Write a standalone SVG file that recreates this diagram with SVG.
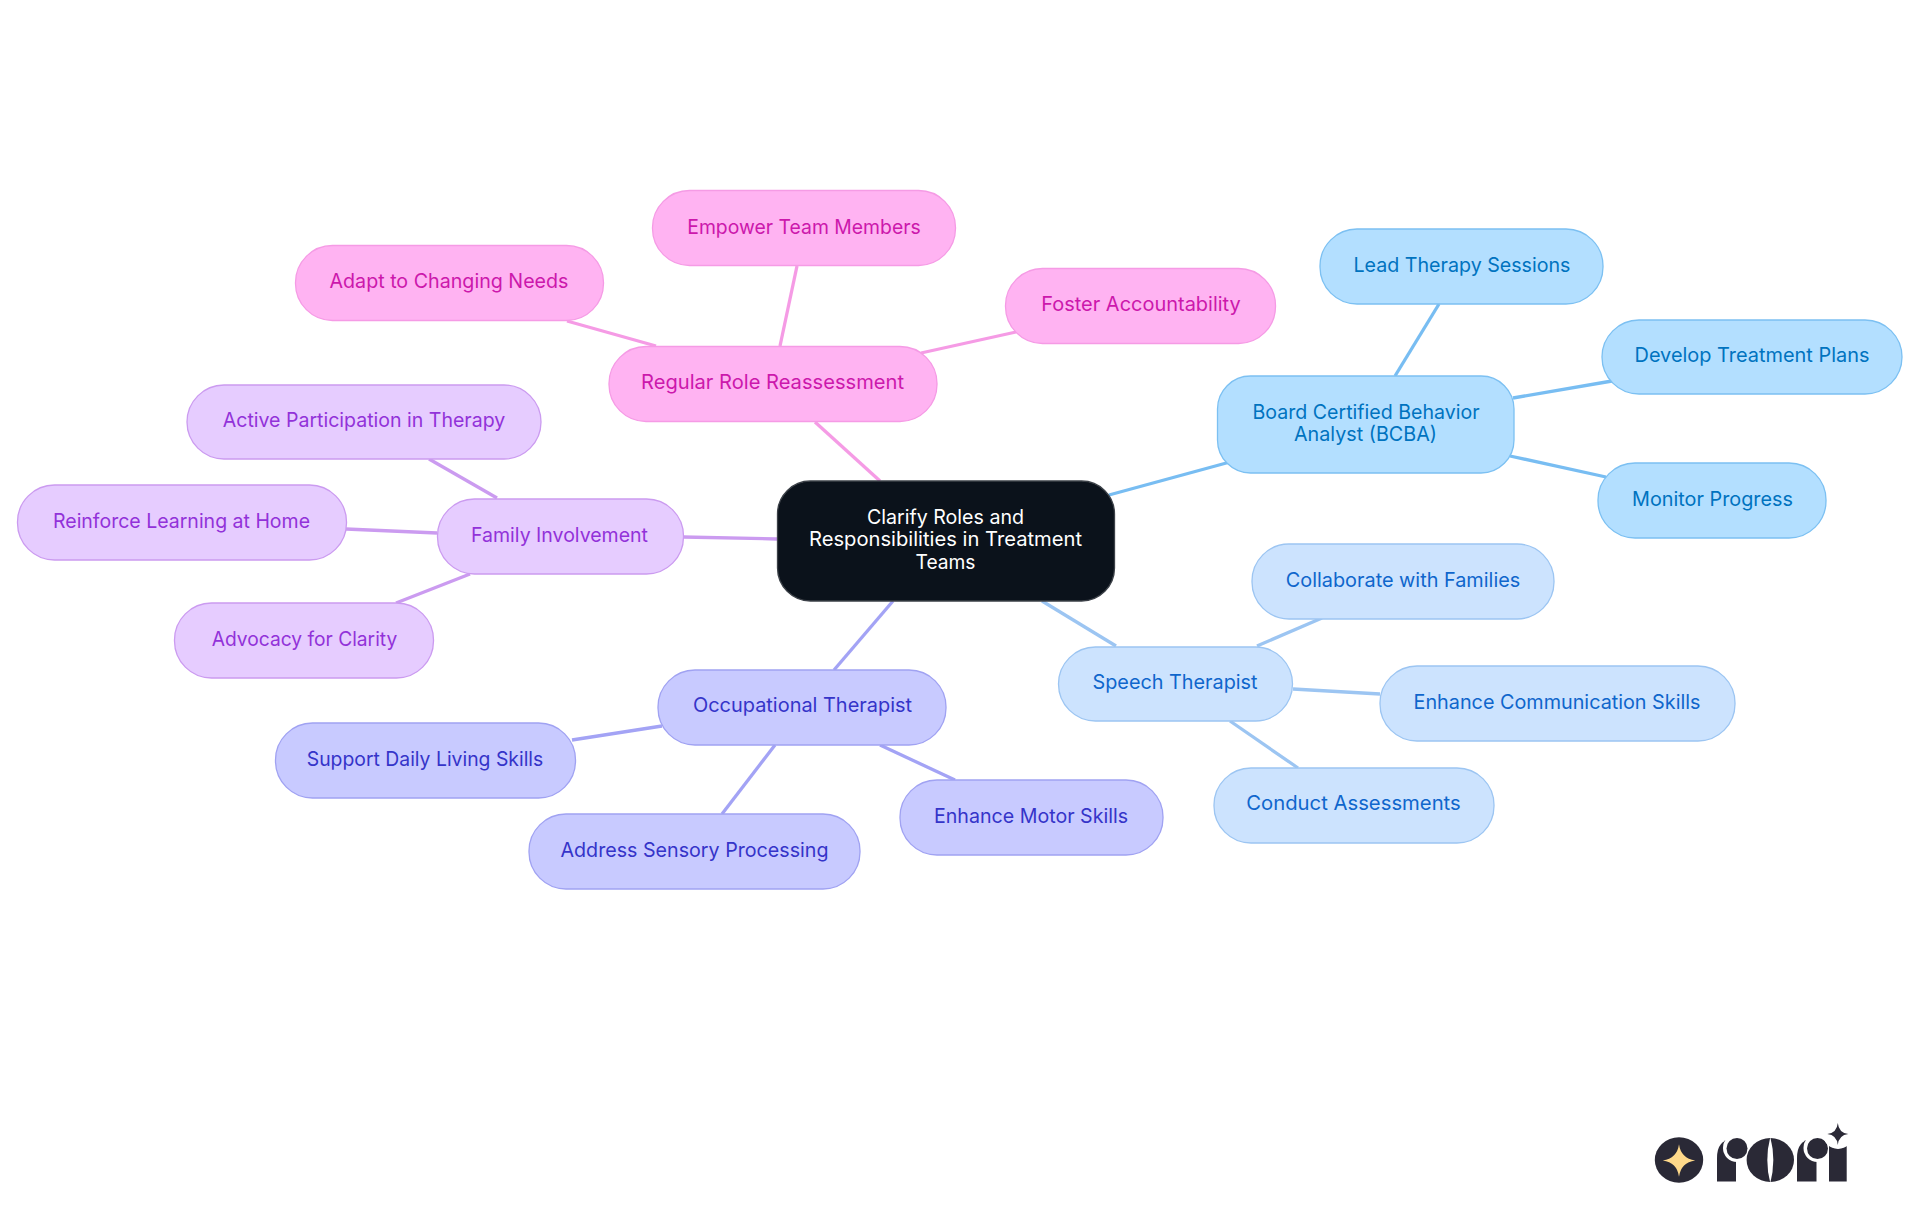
<svg xmlns="http://www.w3.org/2000/svg" width="1920" height="1215" viewBox="0 0 1920 1215">
<style>
text{font-family:"Inter","Liberation Sans",sans-serif;font-size:20px;text-anchor:middle;font-weight:400}
.e{fill:none;stroke-width:3.3}
.n{stroke-width:1.3}
.root{fill:#0b121b;stroke:#3c4148}
.root-t{fill:#fff}
.a{fill:#b3dfff;stroke:#7cc0f2}.a-t{fill:#0073bf}
.s{fill:#cce3fe;stroke:#9cc5f2}.s-t{fill:#0f66cc}
.o{fill:#c8caff;stroke:#a0a2f2}.o-t{fill:#3534c9}
.f{fill:#e6ccff;stroke:#cb9bf0}.f-t{fill:#9232d9}
.r{fill:#ffb3f2;stroke:#f59be5}.r-t{fill:#cc18ac}
</style>
<g id="connectors">
<g class="e" stroke="#78bdf2">
<path d="M1109 495L1230 462"/><path d="M1395 376L1439 304"/><path d="M1513 398L1612 381"/><path d="M1510 456L1606 477"/>
</g>
<g class="e" stroke="#9cc5f2">
<path d="M1042 601L1116 646"/><path d="M1257 646L1322 618"/><path d="M1293 689L1380 694"/><path d="M1230 721L1298 768"/>
</g>
<g class="e" stroke="#a3a3f5">
<path d="M893 601L834 670"/><path d="M662 726L572 740"/><path d="M775 745L722 814"/><path d="M880 745L955 780"/>
</g>
<g class="e" stroke="#cb9bf0">
<path d="M777 539L683 537"/><path d="M497 498L429 459"/><path d="M437 533L346 529"/><path d="M470 574L396 603"/>
</g>
<g class="e" stroke="#f59be5">
<path d="M880 481L815 422"/><path d="M656 346L567 321"/><path d="M780 346L797 266"/><path d="M921 353L1016 332"/>
</g>
</g>
<g id="root"><rect class="n root" x="777.5" y="481" width="337" height="120" rx="33"/><text class="root-t" x="945.500" y="524" textLength="157" lengthAdjust="spacingAndGlyphs">Clarify Roles and</text><text class="root-t" x="945.500" y="546" textLength="273" lengthAdjust="spacingAndGlyphs">Responsibilities in Treatment</text><text class="root-t" x="945.500" y="569" textLength="60" lengthAdjust="spacingAndGlyphs">Teams</text></g>
<g id="bcba"><rect class="n a" x="1217.5" y="376" width="296.500" height="97" rx="33"/><text class="a-t" x="1366" y="419" textLength="227" lengthAdjust="spacingAndGlyphs">Board Certified Behavior</text><text class="a-t" x="1365.500" y="441" textLength="143" lengthAdjust="spacingAndGlyphs">Analyst (BCBA)</text></g>
<g id="lead"><rect class="n a" x="1320" y="229" width="283" height="75" rx="37"/><text class="a-t" x="1462" y="272" textLength="217" lengthAdjust="spacingAndGlyphs">Lead Therapy Sessions</text></g>
<g id="develop"><rect class="n a" x="1602" y="320" width="300" height="74" rx="37"/><text class="a-t" x="1752" y="362" textLength="235" lengthAdjust="spacingAndGlyphs">Develop Treatment Plans</text></g>
<g id="monitor"><rect class="n a" x="1598" y="463" width="228" height="75" rx="37"/><text class="a-t" x="1712.500" y="506" textLength="161" lengthAdjust="spacingAndGlyphs">Monitor Progress</text></g>
<g id="speech"><rect class="n s" x="1058.500" y="647" width="234" height="74" rx="37"/><text class="s-t" x="1175" y="689" textLength="165" lengthAdjust="spacingAndGlyphs">Speech Therapist</text></g>
<g id="collab"><rect class="n s" x="1252" y="544" width="302" height="75" rx="37"/><text class="s-t" x="1403" y="587" textLength="234.500" lengthAdjust="spacingAndGlyphs">Collaborate with Families</text></g>
<g id="comm"><rect class="n s" x="1380" y="666" width="355" height="75" rx="37"/><text class="s-t" x="1557" y="708.500" textLength="287" lengthAdjust="spacingAndGlyphs">Enhance Communication Skills</text></g>
<g id="conduct"><rect class="n s" x="1214" y="768" width="280" height="75" rx="37"/><text class="s-t" x="1353.500" y="810" textLength="214.500" lengthAdjust="spacingAndGlyphs">Conduct Assessments</text></g>
<g id="occ"><rect class="n o" x="658" y="670" width="288" height="75" rx="37"/><text class="o-t" x="802.500" y="712" textLength="219" lengthAdjust="spacingAndGlyphs">Occupational Therapist</text></g>
<g id="daily"><rect class="n o" x="275.500" y="723" width="300" height="75" rx="37"/><text class="o-t" x="425" y="766" textLength="236.500" lengthAdjust="spacingAndGlyphs">Support Daily Living Skills</text></g>
<g id="sensory"><rect class="n o" x="529" y="814" width="331" height="75" rx="37"/><text class="o-t" x="694.500" y="857" textLength="268" lengthAdjust="spacingAndGlyphs">Address Sensory Processing</text></g>
<g id="motor"><rect class="n o" x="900" y="780" width="263" height="75" rx="37"/><text class="o-t" x="1031" y="823" textLength="194" lengthAdjust="spacingAndGlyphs">Enhance Motor Skills</text></g>
<g id="family"><rect class="n f" x="437.500" y="499" width="246" height="75" rx="37"/><text class="f-t" x="559.500" y="542" textLength="177" lengthAdjust="spacingAndGlyphs">Family Involvement</text></g>
<g id="active"><rect class="n f" x="187" y="385" width="354" height="74" rx="37"/><text class="f-t" x="364" y="427" textLength="282.500" lengthAdjust="spacingAndGlyphs">Active Participation in Therapy</text></g>
<g id="reinforce"><rect class="n f" x="17.500" y="485" width="329" height="75" rx="37"/><text class="f-t" x="181.500" y="528" textLength="257" lengthAdjust="spacingAndGlyphs">Reinforce Learning at Home</text></g>
<g id="advocacy"><rect class="n f" x="174.500" y="603" width="259" height="75" rx="37"/><text class="f-t" x="304.500" y="646" textLength="185.500" lengthAdjust="spacingAndGlyphs">Advocacy for Clarity</text></g>
<g id="regular"><rect class="n r" x="609" y="346.500" width="328" height="75" rx="37"/><text class="r-t" x="772.500" y="389" textLength="263" lengthAdjust="spacingAndGlyphs">Regular Role Reassessment</text></g>
<g id="adapt"><rect class="n r" x="295.500" y="245.500" width="308" height="75" rx="37"/><text class="r-t" x="449" y="288" textLength="239" lengthAdjust="spacingAndGlyphs">Adapt to Changing Needs</text></g>
<g id="empower"><rect class="n r" x="652.500" y="190.500" width="303" height="75" rx="37"/><text class="r-t" x="804" y="234" textLength="233.500" lengthAdjust="spacingAndGlyphs">Empower Team Members</text></g>
<g id="foster"><rect class="n r" x="1005.500" y="268.500" width="270" height="75" rx="37"/><text class="r-t" x="1141" y="311" textLength="199.500" lengthAdjust="spacingAndGlyphs">Foster Accountability</text></g>
<g id="logo" fill="#2a2936">
<ellipse cx="1679" cy="1160" rx="24.200" ry="22.700"/>
<path fill="#ffd98a" d="M1679 1144.300Q1681 1158.500 1695.200 1160.500Q1681 1162.500 1679 1176.700Q1677 1162.500 1662.800 1160.500Q1677 1158.500 1679 1144.300Z"/>
<path d="M1717 1181.500V1158Q1717 1140 1732 1139L1736 1139V1181.500Z"/>
<circle cx="1737" cy="1148" r="14" fill="#fff"/>
<circle cx="1737" cy="1148.500" r="10.500"/>
<ellipse cx="1770.300" cy="1160" rx="23.700" ry="22"/>
<path fill="#fff" d="M1770.300 1137Q1764.300 1160 1770.300 1183Q1776.300 1160 1770.300 1137Z"/>
<path d="M1797 1181.500V1158Q1797 1140 1812 1139L1816.500 1139V1181.500Z"/>
<circle cx="1817.500" cy="1148" r="14" fill="#fff"/>
<circle cx="1817.500" cy="1148.500" r="10.500"/>
<rect x="1829" y="1146" width="17.700" height="35.500"/>
<circle cx="1838" cy="1134" r="15" fill="#fff"/>
<path d="M1837.800 1123Q1838.800 1133 1848.300 1134Q1838.800 1135 1837.800 1145Q1836.800 1135 1827.300 1134Q1836.800 1133 1837.800 1123Z"/>
</g>
</svg>
